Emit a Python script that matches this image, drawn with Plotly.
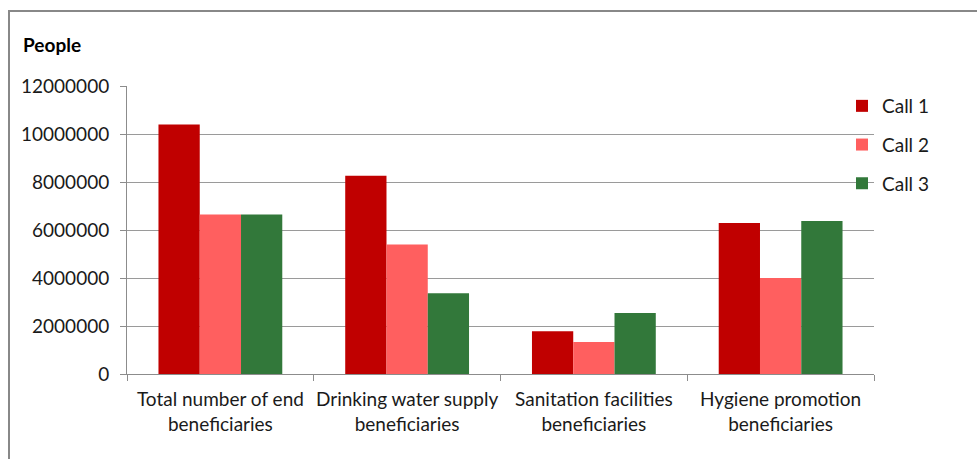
import plotly.graph_objects as go

# Beneficiaries per call, by category
categories = [
    "Total number of end<br>beneficiaries",
    "Drinking water supply<br>beneficiaries",
    "Sanitation facilities<br>beneficiaries",
    "Hygiene promotion<br>beneficiaries",
]
call_1 = [10400000, 8260000, 1780000, 6290000]
call_2 = [6650000, 5400000, 1330000, 4000000]
call_3 = [6650000, 3360000, 2540000, 6380000]
series_names = ["Call 1", "Call 2", "Call 3"]
series_colors = ["#C00000", "#FF5F5F", "#32783A"]

W, H = 977, 459
L, R, T, B = 127, 103, 86, 85
plot_w = W - L - R
plot_h = H - T - B


def px_x(px):
    return (px - L) / plot_w


def px_y(py):
    return (H - B - py) / plot_h


FONT = "Lato"
TXT = "#1a1a1a"
FS = 19

fig = go.Figure()
for name, vals, col in zip(series_names, [call_1, call_2, call_3], series_colors):
    fig.add_trace(go.Bar(
        x=categories, y=vals, name=name, legendgroup=name,
        marker=dict(color=col, line=dict(width=0)),
    ))

fig.update_layout(
    width=W, height=H,
    margin=dict(l=L, r=R, t=T, b=B, autoexpand=False),
    paper_bgcolor="white", plot_bgcolor="white",
    barmode="group", bargap=0.337, bargroupgap=0,
    font=dict(family=FONT, size=FS, color=TXT),
    showlegend=True,
    legend=dict(
        x=px_x(842), y=px_y(87), xanchor="left", yanchor="top",
        font=dict(family=FONT, size=FS, color=TXT),
        tracegroupgap=11, itemwidth=30, bgcolor="rgba(0,0,0,0)",
    ),
    xaxis=dict(
        type="category", showgrid=False, automargin=False, tickangle=0,
        showline=True, linecolor="#8c8c8c", linewidth=1,
        ticks="outside", tickson="boundaries", ticklen=6, tickcolor="#8c8c8c",
        tickfont=dict(family=FONT, size=FS, color=TXT),
        ticklabelstandoff=8,
    ),
    yaxis=dict(
        range=[0, 12000000], dtick=2000000, tickformat="d", automargin=False,
        showgrid=True, gridcolor="#9a9a9a", gridwidth=1,
        showline=True, linecolor="#8c8c8c", linewidth=1,
        ticks="outside", ticklen=6, tickcolor="#8c8c8c",
        tickfont=dict(family=FONT, size=FS, color=TXT),
        ticklabelstandoff=7, zeroline=False,
    ),
    annotations=[dict(
        text="<b>People</b>", xref="paper", yref="paper",
        x=px_x(21), y=px_y(45), xanchor="left", yanchor="middle",
        showarrow=False, font=dict(family=FONT, size=19, color="#000"),
    )],
    shapes=[dict(
        type="rect", xref="paper", yref="paper",
        x0=px_x(9), x1=px_x(1100), y0=px_y(11), y1=px_y(600),
        line=dict(color="#888888", width=2), fillcolor="rgba(0,0,0,0)",
        layer="below",
    )],
)

fig.write_html("out.html")
